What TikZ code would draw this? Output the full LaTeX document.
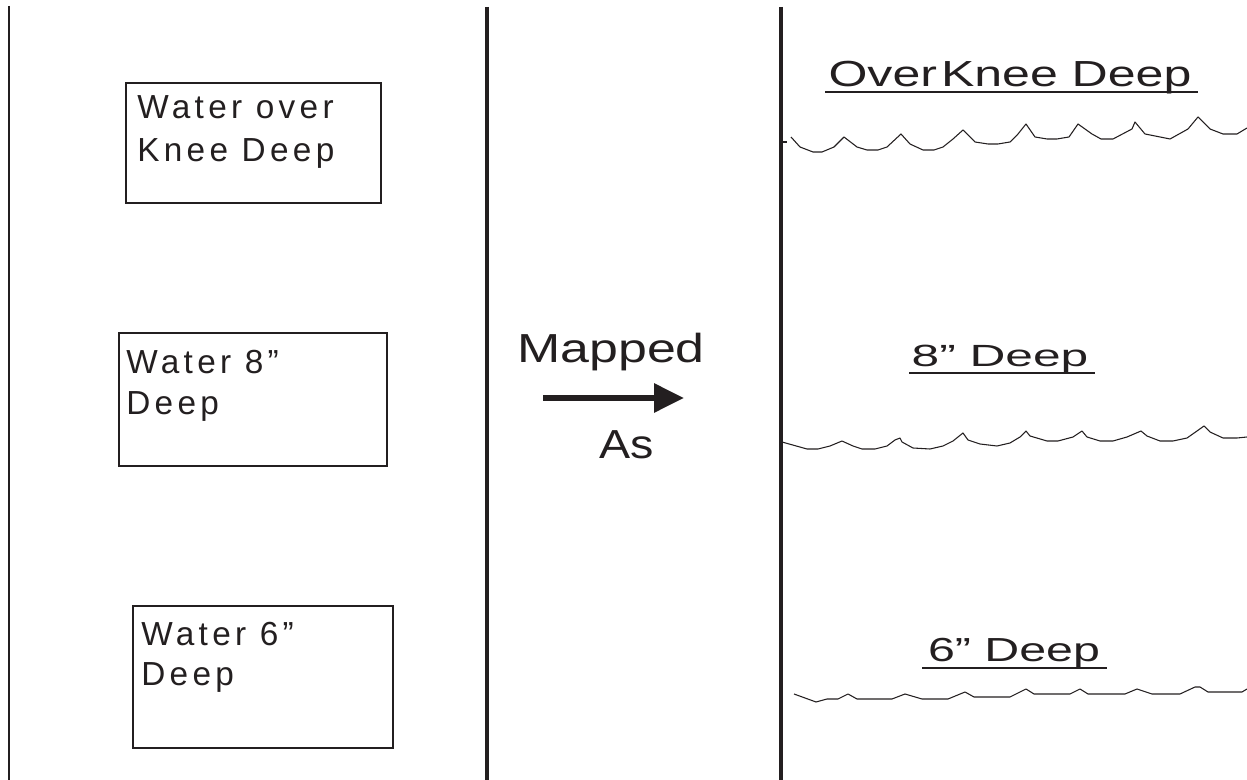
\documentclass[tikz,border=0pt]{standalone}
\usepackage{fontspec}
\setmainfont{Liberation Sans}
\newfontfamily\boxfont[LetterSpace=13]{Liberation Sans}
\usetikzlibrary{arrows.meta}
\definecolor{ink}{RGB}{35,31,32}
% horizontally stretched lettering
\newcommand\widen[2]{\scalebox{#1}[1]{#2}}
\tikzset{
  divider/.style={draw=ink, line width=2.6pt},
  thindivider/.style={draw=ink, line width=2.0pt},
  labelbox/.style={draw=ink, line width=1.3pt},
  boxtext/.style={anchor=base west, inner sep=0pt, text=ink, font=\boxfont\fontsize{25}{30}\selectfont},
  labeltext/.style={anchor=base, inner sep=0pt, text=ink},
  rule/.style={draw=ink, line width=2pt},
  wave/.style={draw=ink, line width=0.8pt, line join=round},
  maparrow/.style={draw=ink, line width=4.5pt, -{Triangle[length=22.5pt, width=21pt]}}
}
\begin{document}
\begin{tikzpicture}[x=0.75pt, y=-0.75pt]
\useasboundingbox (0,0) rectangle (1247,780);

% column dividers
\draw[thindivider] (9,6) -- (9,780);
\draw[divider] (487,7) -- (487,780);
\draw[divider] (781,7) -- (781,780);

% left column: labelled boxes
\draw[labelbox] (126,83) rectangle (381,203);
\node[boxtext] (b1a) at (137,119) {Water over};
\node[boxtext] (b1b) at (137,162) {Knee Deep};

\draw[labelbox] (119,333) rectangle (387,466);
\node[boxtext] (b2a) at (126,374) {Water 8”};
\node[boxtext] (b2b) at (126,415) {Deep};

\draw[labelbox] (133,606) rectangle (393,748);
\node[boxtext] (b3a) at (141,645) {Water 6”};
\node[boxtext] (b3b) at (141,686) {Deep};

% middle column: mapping arrow
\node[labeltext, font=\fontsize{30.4}{36}\selectfont] (mapped) at (611,363) {\widen{1.28}{Mapped}};
\node[labeltext, font=\fontsize{30.4}{36}\selectfont] (as) at (627,459) {\widen{1.15}{As}};
\coordinate (arrowstart) at (543,398);
\coordinate (arrowend) at (684,398);
\draw[maparrow] (arrowstart) -- (arrowend);

% right column: depth levels
\node[labeltext, font=\fontsize{27.2}{32}\selectfont] (over) at (1010,87) {\widen{1.38}{Over\hspace{0.08em}Knee Deep}};
\draw[rule] (825,92) -- (1198,92);
\draw[wave] (783,142) -- (787,142);
\draw[wave] (791,137) -- (800,147) -- (813,152) -- (822,152) -- (834,147) -- (844,137)
  -- (857,147) -- (867,150) -- (878,150) -- (887,147) -- (901,134) -- (910,144)
  -- (923,150) -- (934,150) -- (943,147) -- (953,139) -- (963,130) -- (975,142)
  -- (988,144) -- (998,144) -- (1010,142) -- (1018,134) -- (1026,124) -- (1035,137)
  -- (1047,139) -- (1057,139) -- (1069,137) -- (1078,124) -- (1092,134) -- (1101,139)
  -- (1113,139) -- (1132,129) -- (1135,122) -- (1145,134) -- (1170,139) -- (1188,129)
  -- (1198,117) -- (1210,129) -- (1223,134) -- (1237,134) -- (1247,128);

\node[labeltext, font=\fontsize{23}{28}\selectfont] (eight) at (1000,367) {\widen{1.62}{8” Deep}};
\draw[rule] (909,373) -- (1095,373);
\draw[wave] (782,442) -- (807,449) -- (818,449) -- (830,446) -- (842,441) -- (853,446)
  -- (862,449) -- (875,449) -- (887,446) -- (895,440) -- (900,438) -- (902,442)
  -- (913,448) -- (930,449) -- (943,446) -- (953,441) -- (963,433) -- (968,440)
  -- (980,444) -- (997,446) -- (1010,443) -- (1020,437) -- (1026,431) -- (1030,436)
  -- (1047,441) -- (1058,441) -- (1073,437) -- (1082,431) -- (1087,437) -- (1100,441)
  -- (1113,441) -- (1127,437) -- (1141,431) -- (1147,436) -- (1160,441) -- (1173,441)
  -- (1187,438) -- (1197,431) -- (1204,426) -- (1210,432) -- (1223,438) -- (1237,438)
  -- (1247,437);

\node[labeltext, font=\fontsize{25}{30}\selectfont] (six) at (1014,662) {\widen{1.45}{6” Deep}};
\draw[rule] (922,668) -- (1107,668);
\draw[wave] (794,694) -- (816,702) -- (827,699) -- (838,699) -- (848,694) -- (857,699)
  -- (892,699) -- (905,694) -- (922,699) -- (948,699) -- (965,692) -- (974,697)
  -- (1010,697) -- (1026,689) -- (1034,694) -- (1070,694) -- (1080,689) -- (1088,694)
  -- (1125,694) -- (1137,689) -- (1152,694) -- (1180,694) -- (1195,687) -- (1200,687)
  -- (1208,692) -- (1242,692) -- (1247,689);
\end{tikzpicture}
\end{document}
